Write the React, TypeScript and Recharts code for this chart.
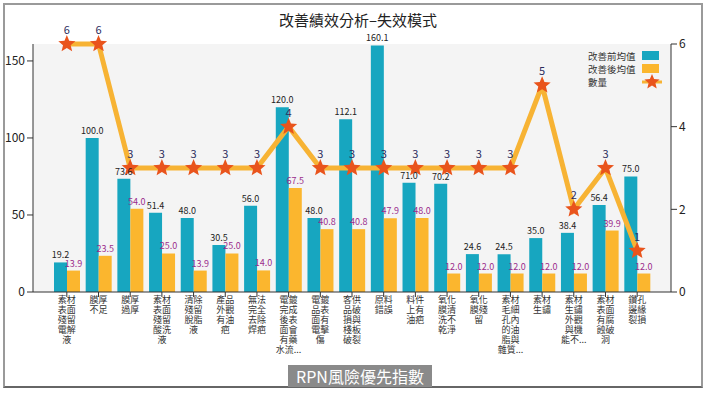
import React from 'react';
import { ComposedChart, Bar, Line, XAxis, YAxis, CartesianGrid, LabelList } from 'recharts';

const categories = [
  '素材表面殘留電解液', '膜厚不足', '膜厚過厚', '素材表面殘留酸洗液', '清除殘留脫脂液',
  '產品外觀有油疤', '無法完全去除焊疤', '電鍍完成後表面會有藥水流...', '電鍍品表面有電擊傷',
  '客供品破損與棧板破裂', '原料錯誤', '料件上有油疤', '氧化膜清洗不乾淨', '氧化膜殘留',
  '素材毛細孔內的油脂與雜質...', '素材生鏽', '素材生鏽外觀與機能不...', '素材表面有腐蝕破洞', '鑽孔邊緣裂損',
];
const beforeAvg = [19.2, 100.0, 73.6, 51.4, 48.0, 30.5, 56.0, 120.0, 48.0, 112.1, 160.1, 71.0, 70.2, 24.6, 24.5, 35.0, 38.4, 56.4, 75.0];
const afterAvg = [13.9, 23.5, 54.0, 25.0, 13.9, 25.0, 14.0, 67.5, 40.8, 40.8, 47.9, 48.0, 12.0, 12.0, 12.0, 12.0, 12.0, 39.9, 12.0];
const counts = [6, 6, 3, 3, 3, 3, 3, 4, 3, 3, 3, 3, 3, 3, 3, 5, 2, 3, 1];
const leftTicks = [0, 50, 100, 150];
const rightTicks = [0, 2, 4, 6];

const data = categories.map((name, i) => ({
  name,
  before: beforeAvg[i],
  after: afterAvg[i],
  count: counts[i],
}));

const TEAL = '#17a6c0';
const YELLOW = '#fbb62e';
const LINE = '#f7b334';
const STAR = '#e9541c';
const FONT = '"Noto Sans CJK TC", "Noto Sans", sans-serif';

// split label into 2-char lines, keep trailing "..." on the last line
const splitLabel = (s: string) => {
  const more = s.endsWith('...');
  const chars = Array.from(more ? s.slice(0, -3) : s);
  const lines: string[] = [];
  for (let i = 0; i < chars.length; i += 2) lines.push(chars.slice(i, i + 2).join(''));
  if (more) lines[lines.length - 1] += '...';
  return lines;
};

const starPoints = (cx: number, cy: number, ro: number, ri: number) => {
  const pts: string[] = [];
  for (let i = 0; i < 10; i++) {
    const r = i % 2 === 0 ? ro : ri;
    const a = -Math.PI / 2 + (i * Math.PI) / 5;
    pts.push(`${cx + r * Math.cos(a)},${cy + r * Math.sin(a)}`);
  }
  return pts.join(' ');
};

const StarDot = (props: any) => {
  const { cx, cy } = props;
  if (cx == null || cy == null) return <g />;
  return <polygon points={starPoints(cx, cy, 9, 4)} fill={STAR} />;
};

const CategoryTick = (props: any) => {
  const { x, y, payload } = props;
  const lines = splitLabel(payload.value);
  return (
    <text x={x} y={y} textAnchor="middle" fontSize={9} fill="#333">
      {lines.map((l, i) => (
        <tspan key={i} x={x} dy={i === 0 ? 4 : 10}>
          {l}
        </tspan>
      ))}
    </text>
  );
};

const fmt = (v: any) => Number(v).toFixed(1);

const legendRow: React.CSSProperties = { display: 'flex', alignItems: 'center', height: 13 };
const legendText: React.CSSProperties = { width: 54, whiteSpace: 'nowrap' };

export default function App() {
  return (
    <div style={{ position: 'relative', width: 708, height: 397, fontFamily: FONT, background: '#fff' }}>
      <style>{`body{margin:0}`}</style>
      <div
        style={{
          position: 'absolute', left: 3, top: 3, width: 700, height: 385,
          border: '2px solid #9a9a9a', boxSizing: 'border-box', borderBottomColor: '#666',
        }}
      />
      <div style={{ position: 'absolute', left: 0, top: 9, width: 716, textAlign: 'center', fontSize: 15, color: '#222' }}>
        改善績效分析–失效模式
      </div>
      <ComposedChart
        width={708}
        height={397}
        data={data}
        margin={{ top: 44, right: 0, bottom: 0, left: 0 }}
        barGap={0}
        style={{ position: 'absolute', left: 0, top: 0 }}
      >
        <CartesianGrid horizontal={false} vertical={false} fill="#f4f4f4" />
        <XAxis
          dataKey="name"
          interval={0}
          height={105}
          tickSize={5}
          tickMargin={2}
          padding={{ left: 18, right: 18 }}
          stroke="#333"
          tick={<CategoryTick />}
        />
        <YAxis
          yAxisId="left"
          width={33}
          domain={[0, 161]}
          ticks={leftTicks}
          tickSize={6}
          stroke="#333"
          tick={{ fill: '#222', fontSize: 12 }}
        />
        <YAxis
          yAxisId="right"
          orientation="right"
          width={37}
          domain={[0, 6]}
          ticks={rightTicks}
          tickSize={6}
          stroke="#333"
          tick={{ fill: '#222', fontSize: 12 }}
        />
        <Bar yAxisId="left" dataKey="before" fill={TEAL} barSize={13} isAnimationActive={false}>
          <LabelList dataKey="before" position="top" offset={4} formatter={fmt} fill="#222" fontSize={9} />
        </Bar>
        <Bar yAxisId="left" dataKey="after" fill={YELLOW} barSize={13} isAnimationActive={false}>
          <LabelList dataKey="after" position="top" offset={4} formatter={fmt} fill="#9b2c8c" fontSize={9} />
        </Bar>
        <Line
          yAxisId="right"
          dataKey="count"
          stroke={LINE}
          strokeWidth={5}
          dot={<StarDot />}
          activeDot={false}
          isAnimationActive={false}
        >
          <LabelList dataKey="count" position="top" offset={10} fill="#2c2c5c" fontSize={11} />
        </Line>
      </ComposedChart>
      <div style={{ position: 'absolute', left: 588, top: 49, fontSize: 9.5, color: '#333' }}>
        <div style={legendRow}>
          <span style={legendText}>改善前均值</span>
          <span style={{ display: 'inline-block', width: 17, height: 9, background: TEAL }} />
        </div>
        <div style={legendRow}>
          <span style={legendText}>改善後均值</span>
          <span style={{ display: 'inline-block', width: 17, height: 9, background: YELLOW }} />
        </div>
        <div style={legendRow}>
          <span style={legendText}>數量</span>
          <svg width={22} height={16}>
            <line x1={0} y1={8} x2={20} y2={8} stroke={LINE} strokeWidth={3} />
            <polygon points={starPoints(10, 8, 8, 3.6)} fill={STAR} />
          </svg>
        </div>
      </div>
      <div
        style={{
          position: 'absolute', left: 288, top: 365, width: 144, height: 22, background: '#8a8a8a',
          color: '#fff', fontSize: 16, lineHeight: '22px', textAlign: 'center',
        }}
      >
        RPN風險優先指數
      </div>
    </div>
  );
}
